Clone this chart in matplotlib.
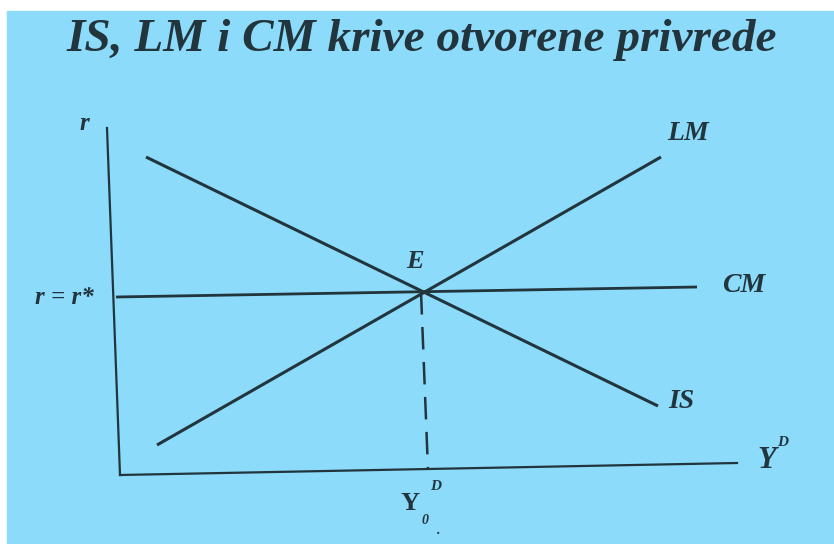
import matplotlib.pyplot as plt
from matplotlib.patches import Rectangle

# curve end points (pixel units, y down)
y_axis_x = [107, 120]
y_axis_y = [128, 475]
x_axis_x = [120, 737]
x_axis_y = [475, 463]
is_x = [146, 658]
is_y = [157, 406]
lm_x = [157, 661]
lm_y = [445, 157]
cm_x = [116, 697]
cm_y = [297, 287]
y0_x = [421, 428]
y0_y = [292, 470]

title = "IS, LM i CM krive otvorene privrede"
ink = "#22343c"
bg = "#8cdbfa"

fig = plt.figure(figsize=(8.34, 5.44), dpi=100, facecolor="white")
ax = fig.add_axes([0, 0, 1, 1])
ax.set_xlim(0, 834)
ax.set_ylim(544, 0)
ax.axis("off")
ax.add_patch(Rectangle((7, 11), 834, 544, color=bg, zorder=0))

serif = dict(family="Liberation Serif", weight="bold", style="italic", color=ink)

ax.text(422, 40, title, ha="center", va="center", fontsize=34, **serif)

ax.plot(y_axis_x, y_axis_y, color=ink, lw=1.6)
ax.plot(x_axis_x, x_axis_y, color=ink, lw=1.6)
ax.plot(is_x, is_y, color=ink, lw=2.2, solid_capstyle="butt")
ax.plot(lm_x, lm_y, color=ink, lw=2.2, solid_capstyle="butt")
ax.plot(cm_x, cm_y, color=ink, lw=2.0, solid_capstyle="butt")
ax.plot(y0_x, y0_y, color=ink, lw=1.8, linestyle=(0, (9, 5)))

ax.text(84, 123, "r", ha="center", va="center", fontsize=18, **serif)
ax.text(64, 298, "r = r*", ha="center", va="center", fontsize=18, **serif)
ax.text(415, 261, "E", ha="center", va="center", fontsize=19, **serif)
ax.text(688, 133, "LM", ha="center", va="center", fontsize=20, **serif)
ax.text(744, 285, "CM", ha="center", va="center", fontsize=20, **serif)
ax.text(681, 401, "IS", ha="center", va="center", fontsize=20, **serif)
ax.text(767, 461, "Y", ha="center", va="center", fontsize=22, **serif)
ax.text(783, 442, "D", ha="center", va="center", fontsize=11, **serif)
ax.text(410, 504, "Y", ha="center", va="center", fontsize=19,
        family="Liberation Serif", weight="bold", color=ink)
ax.text(425, 520, "0", ha="center", va="center", fontsize=10, **serif)
ax.text(436, 487, "D", ha="center", va="center", fontsize=11, **serif)
ax.text(439, 531, ".", ha="center", va="center", fontsize=10, **serif)

fig.savefig("out.png", dpi=100, facecolor="white")
